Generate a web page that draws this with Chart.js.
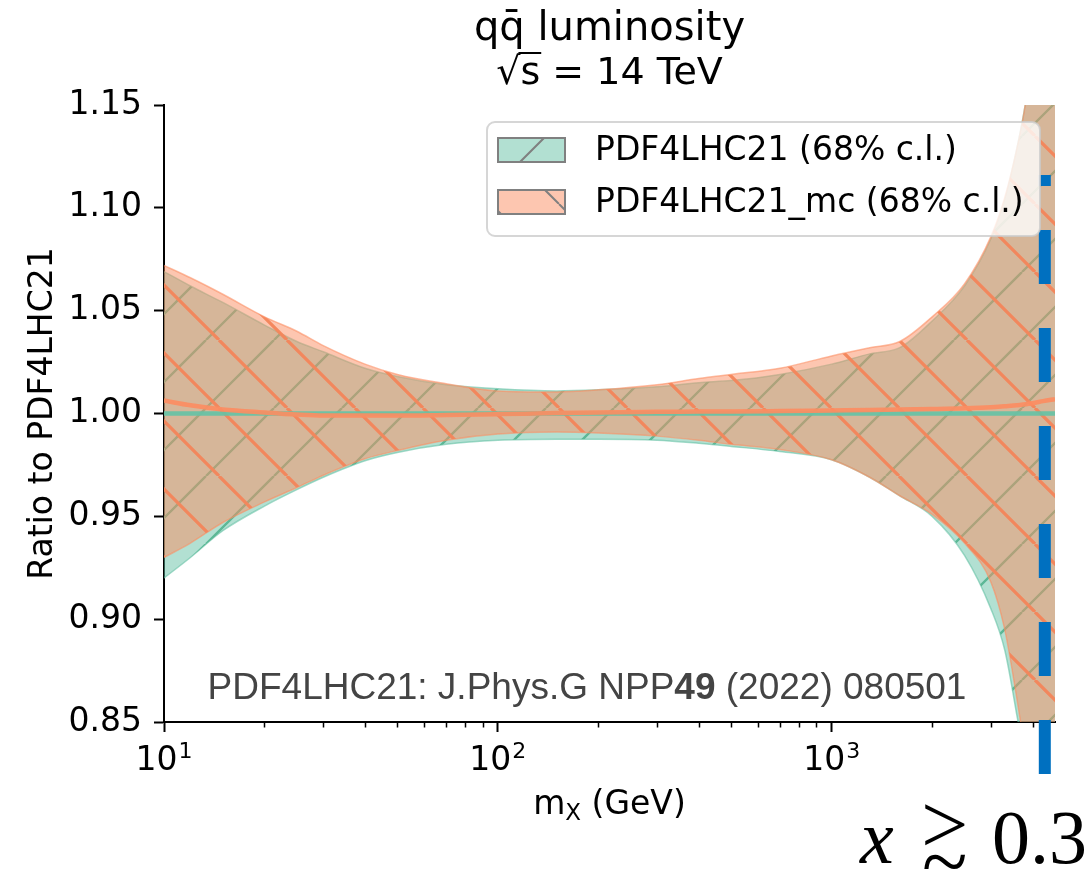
<!DOCTYPE html>
<html>
<head>
<meta charset="utf-8">
<title>qq̄ luminosity</title>
<script src="https://cdn.jsdelivr.net/npm/chart.js@4.4.1/dist/chart.umd.min.js"></script>
<style>
  html, body { margin: 0; padding: 0; background: #fff; }
  #wrap { width: 1089px; height: 880px; }
</style>
</head>
<body>
<div id="wrap"><canvas id="chart" width="1089" height="880"></canvas></div>
<script>
// m_X sample points (GeV)
const massGeV = [10, 12, 15, 20, 25, 30, 40, 50, 70, 100, 150, 200, 300, 400, 500, 700,
  1000, 1300, 1600, 2000, 2500, 3000, 3300, 3600, 3800, 4000, 4300, 4667];

// PDF4LHC21 68% band (ratio to itself)
const refUpper = [1.069, 1.062, 1.054, 1.043, 1.035, 1.030, 1.022, 1.018, 1.014, 1.012, 1.011, 1.0115, 1.013, 1.015, 1.016, 1.019,
  1.024, 1.029, 1.032, 1.045, 1.062, 1.085, 1.104, 1.13, 1.15, 1.175, 1.22, 1.27];
const refLower = [0.920, 0.930, 0.943, 0.955, 0.963, 0.969, 0.977, 0.981, 0.985, 0.987, 0.9875, 0.9875, 0.987, 0.9855, 0.984, 0.9815,
  0.9775, 0.969, 0.960, 0.950, 0.931, 0.905, 0.885, 0.852, 0.83, 0.80, 0.75, 0.70];
const refCentral = [1, 1, 1, 1, 1, 1, 1, 1, 1, 1, 1, 1, 1, 1, 1, 1,
  1, 1, 1, 1, 1, 1, 1, 1, 1, 1, 1, 1];

// PDF4LHC21_mc 68% band
const mcUpper = [1.072, 1.066, 1.058, 1.047, 1.040, 1.033, 1.024, 1.019, 1.0145, 1.011, 1.0105, 1.0115, 1.014, 1.017, 1.019, 1.022,
  1.028, 1.032, 1.035, 1.047, 1.063, 1.086, 1.105, 1.13, 1.15, 1.18, 1.23, 1.28];
const mcLower = [0.930, 0.937, 0.947, 0.957, 0.964, 0.970, 0.978, 0.982, 0.987, 0.990, 0.991, 0.9905, 0.989, 0.987, 0.985, 0.9825,
  0.9775, 0.969, 0.960, 0.951, 0.937, 0.918, 0.895, 0.86, 0.835, 0.81, 0.76, 0.71];
const mcCentral = [1.0063, 1.004, 1.002, 1.0005, 0.9995, 0.999, 0.999, 0.999, 0.9993, 0.9997, 1.0002, 1.0005, 1.0008, 1.001, 1.001, 1.0012,
  1.0015, 1.0017, 1.002, 1.0022, 1.0025, 1.003, 1.0035, 1.004, 1.0045, 1.005, 1.006, 1.007];

// x >~ 0.3 marker line
const cutMass = [4350, 4350];
const cutRatio = [0.8247, 1.116];

const xTickValues = [10, 100, 1000];
const xTickBase = "10";
const xTickExponents = ["1", "2", "3"];
const xMinorTicks = [20, 30, 40, 50, 60, 70, 80, 90, 200, 300, 400, 500, 600, 700, 800, 900, 2000, 3000, 4000];
const yTickValues = [0.85, 0.90, 0.95, 1.00, 1.05, 1.10, 1.15];

const legendLabels = ["PDF4LHC21 (68% c.l.)", "PDF4LHC21_mc (68% c.l.)"];
const titleLines = ["qq̄ luminosity", "√s = 14 TeV"];
const yLabel = "Ratio to PDF4LHC21";

const GREEN = "102,194,165";
const ORANGE = "252,141,98";
const SANS = '"DejaVu Sans", sans-serif';
const SERIF = '"Liberation Serif", serif';

const canvas = document.getElementById("chart");
const mainCtx = canvas.getContext("2d");

function hatch(rgb, bgAlpha, lineColor, lw, dir, phase){
  const s = 68;
  const c = document.createElement("canvas");
  c.width = s; c.height = s;
  const g = c.getContext("2d");
  g.fillStyle = `rgba(${rgb},${bgAlpha})`;
  g.fillRect(0, 0, s, s);
  g.strokeStyle = lineColor;
  g.lineWidth = lw;
  g.beginPath();
  for (let k = -2; k <= 2; k++){
    const x0 = k * s + phase;
    if (dir === "/"){ g.moveTo(x0 - s, s); g.lineTo(x0, 0); }
    else { g.moveTo(x0, 0); g.lineTo(x0 + s, s); }
  }
  g.stroke();
  return mainCtx.createPattern(c, "repeat");
}

const greenHatch = hatch(GREEN, 0.5, "rgba(92,184,150,1)", 2.4, "/", 2);
const orangeHatch = hatch(ORANGE, 0.5, "rgba(244,134,92,0.97)", 3.2, "\\", 15);
const greenPatch = hatch(GREEN, 0.5, "#808080", 2, "/", 2);
const orangePatch = hatch(ORANGE, 0.5, "#808080", 2, "\\", 15);

const pts = ys => massGeV.map((m, i) => ({x: m, y: ys[i]}));

function roundRect(ctx, x, y, w, h, r){
  ctx.beginPath();
  ctx.moveTo(x + r, y);
  ctx.arcTo(x + w, y, x + w, y + h, r);
  ctx.arcTo(x + w, y + h, x, y + h, r);
  ctx.arcTo(x, y + h, x, y, r);
  ctx.arcTo(x, y, x + w, y, r);
  ctx.closePath();
}

const decorations = {
  id: "decorations",
  afterDatasetsDraw(chart){
    // legend
    const ctx = chart.ctx;
    ctx.save();
    roundRect(ctx, 487, 122, 553, 114, 8);
    ctx.fillStyle = "rgba(255,255,255,0.8)";
    ctx.fill();
    ctx.strokeStyle = "rgba(204,204,204,0.8)";
    ctx.lineWidth = 2;
    ctx.stroke();
    const patches = [greenPatch, orangePatch];
    legendLabels.forEach((lab, i) => {
      const y = 138 + i * 52;
      ctx.fillStyle = "#fff";
      ctx.fillRect(498, y, 67, 24);
      ctx.fillStyle = patches[i];
      ctx.fillRect(498, y, 67, 24);
      ctx.strokeStyle = "#808080";
      ctx.lineWidth = 2;
      ctx.strokeRect(498, y, 67, 24);
      ctx.fillStyle = "#000";
      ctx.font = `33px ${SANS}`;
      ctx.textAlign = "left";
      ctx.textBaseline = "middle";
      ctx.fillText(lab, 595, y + 13);
    });
    ctx.restore();
  },
  afterDraw(chart){
    const ctx = chart.ctx;
    const xs = chart.scales.x;
    const area = chart.chartArea;
    ctx.save();

    // minor ticks
    ctx.strokeStyle = "#000";
    ctx.lineWidth = 1.5;
    ctx.beginPath();
    xMinorTicks.forEach(v => {
      const px = Math.round(xs.getPixelForValue(v)) + 0.5;
      ctx.moveTo(px, area.bottom);
      ctx.lineTo(px, area.bottom + 5.5);
    });
    ctx.stroke();

    // x tick labels 10^n
    ctx.fillStyle = "#000";
    ctx.textBaseline = "alphabetic";
    ctx.textAlign = "left";
    xTickValues.forEach((v, i) => {
      const px = xs.getPixelForValue(v);
      ctx.font = `33px ${SANS}`;
      const wb = ctx.measureText(xTickBase).width;
      ctx.font = `22px ${SANS}`;
      const we = ctx.measureText(xTickExponents[i]).width;
      const x0 = px - (wb + 1 + we) / 2;
      ctx.font = `33px ${SANS}`;
      ctx.fillText(xTickBase, x0, 770);
      ctx.font = `22px ${SANS}`;
      ctx.fillText(xTickExponents[i], x0 + wb + 1, 758);
    });

    // title
    const cx = (area.left + area.right) / 2;
    ctx.textAlign = "center";
    ctx.font = `40px ${SANS}`;
    ctx.fillText(titleLines[0], cx, 40);
    ctx.font = `38px ${SANS}`;
    ctx.fillText(titleLines[1], cx, 84);
    // vinculum over s
    const w2 = ctx.measureText(titleLines[1]).width;
    const x2 = cx - w2 / 2;
    const wr = ctx.measureText("√").width;
    const ws = ctx.measureText("s").width;
    ctx.lineWidth = 2;
    ctx.beginPath();
    ctx.moveTo(x2 + wr - 2, 53);
    ctx.lineTo(x2 + wr + ws + 1, 53);
    ctx.stroke();

    // y label
    ctx.save();
    ctx.translate(52, (area.top + area.bottom) / 2);
    ctx.rotate(-Math.PI / 2);
    ctx.font = `33px ${SANS}`;
    ctx.textAlign = "center";
    ctx.fillText(yLabel, 0, 0);
    ctx.restore();

    // x label  m_X (GeV)
    ctx.textAlign = "left";
    ctx.font = `33px ${SANS}`;
    const wm = ctx.measureText("m").width;
    const wrest = ctx.measureText(" (GeV)").width;
    ctx.font = `23px ${SANS}`;
    const wx = ctx.measureText("X").width;
    let lx = cx - (wm + wx + wrest) / 2;
    ctx.font = `33px ${SANS}`;
    ctx.fillText("m", lx, 814);
    ctx.font = `23px ${SANS}`;
    ctx.fillText("X", lx + wm, 820);
    ctx.font = `33px ${SANS}`;
    ctx.fillText(" (GeV)", lx + wm + wx, 814);

    // reference annotation
    const aParts = [["PDF4LHC21: J.Phys.G NPP", "normal"], ["49", "bold"], [" (2022) 080501", "normal"]];
    let total = 0;
    aParts.forEach(p => { ctx.font = `${p[1]} 37px "Liberation Sans", Arial, sans-serif`; total += ctx.measureText(p[0]).width; });
    let ax = 587 - total / 2;
    ctx.fillStyle = "#444";
    aParts.forEach(p => {
      ctx.font = `${p[1]} 37px "Liberation Sans", Arial, sans-serif`;
      ctx.fillText(p[0], ax, 699);
      ax += ctx.measureText(p[0]).width;
    });

    // x >~ 0.3  (greater-than over tilde)
    ctx.fillStyle = "#000";
    ctx.font = `italic 76px ${SERIF}`;
    ctx.fillText("x", 860, 863);
    ctx.font = `84px ${SERIF}`;
    ctx.fillText(">", 921, 853);
    ctx.fillText("~", 922, 890);
    ctx.font = `76px ${SERIF}`;
    ctx.fillText("0.3", 992, 863);

    ctx.restore();
  }
};

Chart.defaults.font.family = SANS;
Chart.defaults.color = "#000";

const lineBase = {pointRadius: 0, cubicInterpolationMode: "monotone"};

new Chart(canvas, {
  type: "line",
  data: {
    datasets: [
      {label: "cut", data: cutMass.map((m, i) => ({x: m, y: cutRatio[i]})), borderColor: "#0070c0",
        borderWidth: 12, borderDash: [54, 44], borderCapStyle: "butt", pointRadius: 0, fill: false, clip: false, order: 0},
      {label: "mc central", data: pts(mcCentral), borderColor: `rgba(${ORANGE},0.92)`, borderWidth: 4.5, fill: false, order: 1, ...lineBase},
      {label: "central", data: pts(refCentral), borderColor: `rgba(${GREEN},0.92)`, borderWidth: 4.5, fill: false, order: 2, ...lineBase},
      {label: legendLabels[1], data: pts(mcUpper), backgroundColor: orangeHatch, borderColor: `rgba(${ORANGE},0.6)`,
        borderWidth: 1.5, fill: "+1", order: 3, ...lineBase},
      {label: "mc lower", data: pts(mcLower), borderColor: `rgba(${ORANGE},0.6)`, borderWidth: 1.5, fill: false, order: 3, ...lineBase},
      {label: legendLabels[0], data: pts(refUpper), backgroundColor: greenHatch, borderColor: `rgba(${GREEN},0.6)`,
        borderWidth: 1.5, fill: "+1", order: 4, ...lineBase},
      {label: "lower", data: pts(refLower), borderColor: `rgba(${GREEN},0.6)`, borderWidth: 1.5, fill: false, order: 4, ...lineBase}
    ]
  },
  options: {
    responsive: false,
    animation: false,
    devicePixelRatio: 1,
    events: [],
    layout: {padding: {top: 105, right: 34, left: 0, bottom: 0}},
    plugins: {legend: {display: false}, tooltip: {enabled: false}, title: {display: false}},
    scales: {
      x: {
        type: "logarithmic",
        min: 10,
        max: 4667,
        afterFit: s => { s.height = 158; },
        afterBuildTicks: s => { s.ticks = xTickValues.map(v => ({value: v})); },
        ticks: {
          font: {size: 33},
          padding: 6,
          maxRotation: 0,
          autoSkip: false,
          callback: () => ""
        },
        grid: {display: true, drawOnChartArea: false, drawTicks: true, tickLength: 10, tickWidth: 2, tickColor: "#000"},
        border: {display: true, color: "#000", width: 2}
      },
      y: {
        type: "linear",
        min: 0.85,
        max: 1.15,
        afterFit: s => { s.width = 164; },
        afterBuildTicks: s => { s.ticks = yTickValues.map(v => ({value: v})); },
        ticks: {
          font: {size: 33},
          color: "#000",
          padding: 12,
          callback: v => Number(v).toFixed(2)
        },
        grid: {display: true, drawOnChartArea: false, drawTicks: true, tickLength: 10, tickWidth: 2, tickColor: "#000"},
        border: {display: true, color: "#000", width: 2}
      }
    }
  },
  plugins: [decorations]
});
</script>
</body>
</html>
